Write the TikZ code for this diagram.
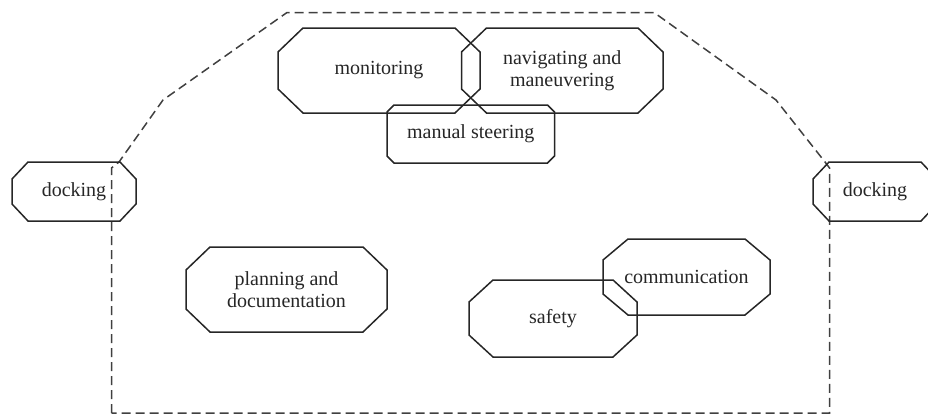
\documentclass[tikz,border=0pt]{standalone}
\usepackage{fontspec}
\setmainfont{Liberation Serif}
\begin{document}
\begin{tikzpicture}[x=1pt,y=-1pt,
  box/.style={rectangle,inner sep=0pt,outer sep=0pt,align=center,
    font=\fontsize{20}{22.5}\selectfont,text=black!85},
  octline/.style={draw=black!85,line width=1.5pt,line join=miter},
  zone/.style={draw=black!75,line width=1.5pt,dash pattern=on 9pt off 5pt}]
\clip (0,0) rectangle (928,415);
\newcommand\octo[3]{\path[octline] ([xshift=#2]#1.north west) -- ([xshift=-#2]#1.north east) -- ([yshift=-#3]#1.north east) -- ([yshift=#3]#1.south east) -- ([xshift=-#2]#1.south east) -- ([xshift=#2]#1.south west) -- ([yshift=#3]#1.south west) -- ([yshift=-#3]#1.north west) -- cycle;}
% dashed zone
\draw[zone] (111.5,413) -- (111.5,168) -- (119,162) -- (163,100) -- (287,12.5) -- (654,12.5) -- (776,100) -- (825,162) -- (829.5,168) -- (829.5,413) -- cycle;
% nodes
\node[box,minimum width=202pt,minimum height=85pt] (mon) at (379,70.5) {monitoring};
\node[box,minimum width=201.5pt,minimum height=85pt] (nav) at (562.25,70.5) {navigating and\\maneuvering};
\node[box,minimum width=167.5pt,minimum height=58pt] (man) at (470.75,134) {manual steering};
\node[box,minimum width=124pt,minimum height=59pt] (dockL) at (74,191.5) {docking};
\node[box,minimum width=124pt,minimum height=59pt] (dockR) at (875,191.5) {docking};
\node[box,minimum width=201pt,minimum height=85pt] (plan) at (286.5,289.5) {planning and\\documentation};
\node[box,minimum width=167pt,minimum height=76pt] (comm) at (686.5,277) {communication};
\node[box,minimum width=168pt,minimum height=77pt] (safe) at (553,318.5) {safety};
\octo{mon}{25pt}{24pt}
\octo{nav}{25pt}{24pt}
\octo{man}{7pt}{7pt}
\octo{dockL}{16pt}{17pt}
\octo{dockR}{16pt}{17pt}
\octo{plan}{24pt}{23pt}
\octo{comm}{25pt}{21pt}
\octo{safe}{24pt}{22pt}
\end{tikzpicture}
\end{document}
